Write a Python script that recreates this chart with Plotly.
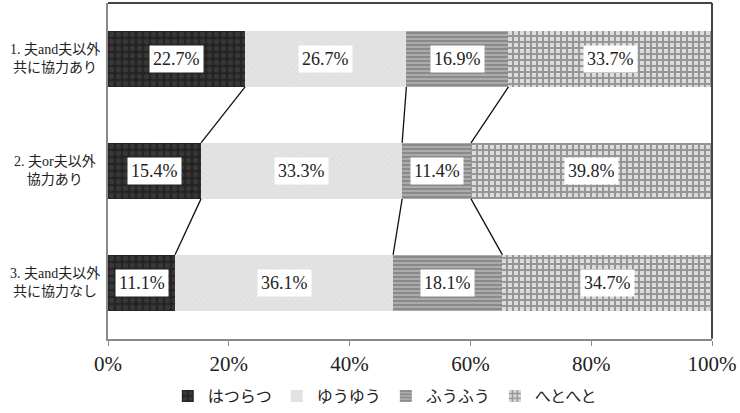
import plotly.graph_objects as go

categories = ["1. 夫and夫以外<br>共に協力あり", "2. 夫or夫以外<br>協力あり", "3. 夫and夫以外<br>共に協力なし"]
series_names = ["はつらつ", "ゆうゆう", "ふうふう", "へとへと"]
hatsuratsu = [22.7, 15.4, 11.1]
yuuyuu = [26.7, 33.3, 36.1]
fuufuu = [16.9, 11.4, 18.1]
hetoheto = [33.7, 39.8, 34.7]
x_ticks = [0, 20, 40, 60, 80, 100]
x_ticklabels = ["0%", "20%", "40%", "60%", "80%", "100%"]

series_values = [hatsuratsu, yuuyuu, fuufuu, hetoheto]
styles = [
    dict(bg="#242424", fg="#4a4a4a", shape=".", size=7, sol=0.45),
    dict(bg="#e3e3e3", fg="#d4d4d4", shape="x", size=4, sol=0.2),
    dict(bg="#ababab", fg="#6a6a6a", shape="-", size=4, sol=0.5),
    dict(bg="#dcdcdc", fg="#505050", shape="+", size=6, sol=0.55),
]

ypos = list(range(len(categories)))
fig = go.Figure()
for name, vals, st in zip(series_names, series_values, styles):
    fig.add_trace(go.Bar(
        name=name, x=vals, y=ypos, orientation="h", width=0.5,
        marker=dict(color=st["bg"], line=dict(width=0),
                    pattern=dict(shape=st["shape"], fgcolor=st["fg"], bgcolor=st["bg"],
                                 size=st["size"], solidity=st["sol"], fillmode="overlay")),
        hoverinfo="skip",
    ))

# cumulative boundaries
cums = []
for i in range(len(categories)):
    c, row = 0, []
    for vals in series_values:
        c += vals[i]
        row.append(c)
    cums.append(row)

# connector lines between rows
for i in range(len(categories) - 1):
    for k in range(len(series_values) - 1):
        fig.add_trace(go.Scatter(
            x=[cums[i][k], cums[i + 1][k]], y=[ypos[i] + 0.25, ypos[i + 1] - 0.25],
            mode="lines", line=dict(color="#111111", width=1.3),
            showlegend=False, hoverinfo="skip",
        ))

annotations = []
for i in range(len(categories)):
    start = 0
    for vals in series_values:
        v = vals[i]
        annotations.append(dict(
            x=start + v / 2, y=ypos[i], xref="x", yref="y", text=f"{v:.1f}%",
            showarrow=False, bgcolor="white", borderpad=3,
            font=dict(family="Liberation Serif", size=18, color="#222222"),
        ))
        start += v
    annotations.append(dict(
        x=-0.088, y=ypos[i], xref="paper", yref="y", text=categories[i],
        showarrow=False, xanchor="center", align="center",
        font=dict(family="Liberation Serif, Noto Sans CJK JP", size=14, color="#222222"),
    ))

fig.update_layout(
    width=740, height=413,
    margin=dict(l=108, r=27, t=3, b=71),
    paper_bgcolor="white", plot_bgcolor="white",
    barmode="stack",
    bargap=0.5,
    annotations=annotations,
    showlegend=True,
    legend=dict(orientation="h", x=0.52, xref="container", xanchor="center",
                y=0.0, yref="container", yanchor="bottom",
                font=dict(family="Noto Sans CJK JP", size=16, color="#222222"),
                itemwidth=30, traceorder="normal", tracegroupgap=0),
    shapes=[
        dict(type="line", xref="paper", yref="paper", x0=0, x1=1, y0=1, y1=1,
             line=dict(color="#444444", width=2)),
        dict(type="line", xref="paper", yref="paper", x0=1, x1=1, y0=0, y1=1,
             line=dict(color="#444444", width=2)),
    ],
)
fig.update_xaxes(range=[0, 100], tickvals=x_ticks, ticktext=x_ticklabels,
                 showgrid=False, zeroline=False, showline=True, linecolor="#8a8a8a", linewidth=2,
                 ticks="outside", ticklen=5, tickcolor="#8a8a8a", tickwidth=1,
                 tickfont=dict(family="Liberation Serif", size=21, color="#222222"))
fig.update_yaxes(range=[2.5, -0.5], showticklabels=False, showgrid=False, zeroline=False,
                 showline=True, linecolor="#8a8a8a", linewidth=2, ticks="")

fig.write_html("out.html")
